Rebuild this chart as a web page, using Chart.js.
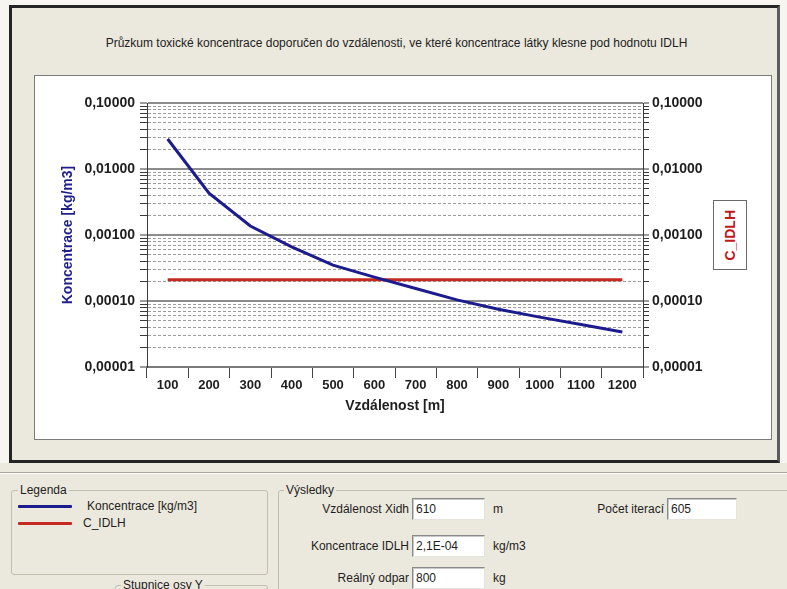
<!DOCTYPE html>
<html lang="cs">
<head>
<meta charset="utf-8">
<title>Průzkum toxické koncentrace</title>
<script src="https://cdn.jsdelivr.net/npm/chart.js@4"></script>
<style>
  html, body { margin: 0; padding: 0; }
  body {
    width: 787px; height: 589px; overflow: hidden; position: relative;
    background: #f6f5f0;
    font-family: "Liberation Sans", Arial, sans-serif; color: #1e1e1e;
  }
  .abs { position: absolute; }
  #frame {
    left: 9px; top: 5px; width: 771px; height: 458px; box-sizing: border-box;
    border: 3px solid #242424; border-right-color: #5c5c5c; background: #ebe8dd;
  }
  #title { left: 10px; top: 36px; width: 773px; text-align: center; font-size: 12px; line-height: 14px; color: #222; white-space: nowrap; }
  #panel { left: 34px; top: 75px; width: 738px; height: 365px; box-sizing: border-box; border: 1px solid #7c7c7c; background: #fff; }
  #chart { left: 35px; top: 76px; width: 736px; height: 363px; }
  #idlhBox {
    left: 713px; top: 200px; width: 34px; height: 70px; box-sizing: border-box;
    border: 1px solid #6a6a6a; background: #fff;
    display: flex; align-items: center; justify-content: center;
  }
  #idlhBox span { writing-mode: vertical-rl; transform: rotate(180deg); color: #c0181c; font-weight: bold; font-size: 14px; }
  #bottom { left: 0; top: 463px; width: 787px; height: 126px; background: #ebe8dd; }
  #sep { left: 0; top: 472px; width: 787px; height: 1px; background: #a9a69a; box-shadow: 0 1px 0 #fff; }
  .grp { position: absolute; border: 1px solid #c3bfae; border-radius: 3px; box-sizing: border-box; }
  .lbl { position: absolute; font-size: 12px; line-height: 14px; white-space: nowrap; color: #1e1e1e; }
  .glbl { background: #ebe8dd; padding: 0 2px; }
  .right { text-align: right; }
  .box {
    position: absolute; height: 22px; box-sizing: border-box; background: #fff;
    border: 1px solid; border-color: #8a8a8a #e6e4dc #e6e4dc #8a8a8a;
    box-shadow: inset 1px 1px 0 #c8c8c8;
    font-size: 12px; line-height: 20px; padding-left: 3px; color: #1e1e1e;
  }
  .swatch { position: absolute; left: 18px; width: 54px; height: 3px; border-radius: 1px; }
</style>
</head>
<body>
<div id="frame" class="abs"></div>
<div id="title" class="abs">Průzkum toxické koncentrace doporučen do vzdálenosti, ve které koncentrace látky klesne pod hodnotu IDLH</div>
<div id="panel" class="abs"></div>
<canvas id="chart" class="abs" width="736" height="363"></canvas>
<div id="idlhBox" class="abs"><span>C_IDLH</span></div>

<div id="bottom" class="abs"></div>
<div id="sep" class="abs"></div>

<div class="grp" style="left:11px;top:490px;width:257px;height:85px;"></div>
<div class="lbl glbl" style="left:18px;top:483px;">Legenda</div>
<div id="legend"></div>

<div class="grp" style="left:115px;top:585px;width:153px;height:30px;"></div>
<div class="lbl glbl" style="left:121px;top:578px;">Stupnice osy Y</div>

<div class="grp" style="left:278px;top:490px;width:530px;height:130px;"></div>
<div class="lbl glbl" style="left:284px;top:483px;">Výsledky</div>
<div id="results"></div>

<script>
// Distances along the x axis [m]
const distanceLabels = ['100', '200', '300', '400', '500', '600', '700', '800', '900', '1000', '1100', '1200'];

// Toxic concentration at each distance [kg/m3]
const concentration = [0.0285, 0.0043, 0.00137, 0.00066, 0.00035, 0.00023, 0.000155, 0.000104, 0.000075, 0.000057, 0.000044, 0.000034];

// IDLH threshold concentration [kg/m3]
const cIdlh = [0.00021, 0.00021, 0.00021, 0.00021, 0.00021, 0.00021, 0.00021, 0.00021, 0.00021, 0.00021, 0.00021, 0.00021];

// Logarithmic axis: labelled decades and the minor steps inside each decade
const decadeValues = [0.1, 0.01, 0.001, 0.0001, 0.00001];
const decadeLabels = ['0,10000', '0,01000', '0,00100', '0,00010', '0,00001'];
const minorSteps = [2, 3, 4, 5, 6, 7, 8, 9];

const seriesNames = ['Koncentrace [kg/m3]', 'C_IDLH'];
const seriesColors = ['#1c1c8e', '#c42a22'];

// Result fields of the form
const resultRows = [
  { label: 'Vzdálenost Xidh', value: '610', unit: 'm' },
  { label: 'Koncentrace IDLH', value: '2,1E-04', unit: 'kg/m3' },
  { label: 'Reálný odpar', value: '800', unit: 'kg' }
];
const iterationLabel = 'Počet iterací';
const iterationValue = '605';

// ---------- form widgets ----------
const legendEl = document.getElementById('legend');
seriesNames.forEach((name, i) => {
  const y = 506 + i * 17;
  const sw = document.createElement('div');
  sw.className = 'swatch';
  sw.style.top = (y - 1) + 'px';
  sw.style.background = seriesColors[i];
  legendEl.appendChild(sw);
  const t = document.createElement('div');
  t.className = 'lbl';
  t.style.left = (i === 0 ? 87 : 83) + 'px';
  t.style.top = (y - 7) + 'px';
  t.textContent = name;
  legendEl.appendChild(t);
});

const resultsEl = document.getElementById('results');
const rowCenters = [509, 546, 578];
function addField(labelText, value, unit, cy, labelRight, boxLeft, boxWidth) {
  const l = document.createElement('div');
  l.className = 'lbl right';
  l.style.left = (labelRight - 160) + 'px';
  l.style.width = '160px';
  l.style.top = (cy - 7) + 'px';
  l.textContent = labelText;
  resultsEl.appendChild(l);
  const b = document.createElement('div');
  b.className = 'box';
  b.style.left = boxLeft + 'px';
  b.style.width = boxWidth + 'px';
  b.style.top = (cy - 11) + 'px';
  b.textContent = value;
  resultsEl.appendChild(b);
  if (unit) {
    const u = document.createElement('div');
    u.className = 'lbl';
    u.style.left = (boxLeft + boxWidth + 8) + 'px';
    u.style.top = (cy - 7) + 'px';
    u.textContent = unit;
    resultsEl.appendChild(u);
  }
}
resultRows.forEach((r, i) => addField(r.label, r.value, r.unit, rowCenters[i], 409, 412, 73));
addField(iterationLabel, iterationValue, '', rowCenters[0], 664, 667, 70);

// ---------- chart ----------
Chart.defaults.font.family = '"Liberation Sans", Arial, sans-serif';

function logTicks() {
  const out = [];
  decadeValues.forEach(d => {
    out.push({ value: d, major: true });
    if (d < Math.max(...decadeValues)) {
      minorSteps.forEach(m => out.push({ value: d * m, major: false }));
    }
  });
  return out.sort((a, b) => a.value - b.value);
}

function decadeLabel(v) {
  const i = decadeValues.findIndex(d => Math.abs(v / d - 1) < 1e-6);
  return i >= 0 ? decadeLabels[i] : '';
}

const isMajor = c => !!(c.tick && c.tick.major);

function yAxis(position, width, tickLength, pad, withGrid) {
  return {
    type: 'logarithmic',
    position: position,
    min: Math.min(...decadeValues),
    max: Math.max(...decadeValues),
    afterBuildTicks: s => { s.ticks = logTicks(); },
    afterFit: s => { s.width = width; },
    ticks: {
      autoSkip: false,
      padding: pad,
      color: '#1e1e1e',
      font: { size: 14, weight: 'bold' },
      callback: (v, i, ticks) => decadeLabel(ticks[i].value)
    },
    grid: {
      drawOnChartArea: withGrid,
      drawTicks: true,
      tickLength: tickLength,
      tickColor: '#3a3a3a',
      tickWidth: 1,
      color: c => isMajor(c) ? '#8c8c8c' : '#9c9c9c',
      lineWidth: c => isMajor(c) ? 2 : 1
    },
    border: {
      display: true,
      color: '#3c3c3c',
      width: 1,
      dash: c => (c.tick && !c.tick.major) ? [3, 2] : []
    }
  };
}

const leftAxis = yAxis('left', 112, 7, 5, true);
leftAxis.title = {
  display: true,
  text: 'Koncentrace [kg/m3]',
  color: '#1e1e8c',
  font: { size: 14, weight: 'bold' },
  padding: { top: 25, bottom: 0 }
};
const rightAxis = yAxis('right', 128, 6, 3, false);

new Chart(document.getElementById('chart'), {
  type: 'line',
  data: {
    labels: distanceLabels,
    datasets: [
      {
        label: seriesNames[0],
        data: concentration,
        yAxisID: 'y',
        borderColor: seriesColors[0],
        borderWidth: 3,
        pointRadius: 0,
        tension: 0,
        fill: false
      },
      {
        label: seriesNames[1],
        data: cIdlh,
        yAxisID: 'y2',
        borderColor: seriesColors[1],
        borderWidth: 3,
        pointRadius: 0,
        tension: 0,
        fill: false
      }
    ]
  },
  options: {
    responsive: false,
    devicePixelRatio: 1,
    animation: false,
    layout: { padding: { top: 27, left: 0, right: 0, bottom: 0 } },
    plugins: { legend: { display: false }, tooltip: { enabled: false }, title: { display: false } },
    scales: {
      x: {
        type: 'category',
        offset: true,
        afterFit: s => { s.height = 72; },
        grid: {
          offset: true,
          drawOnChartArea: false,
          drawTicks: true,
          tickLength: 11,
          tickColor: '#444',
          tickWidth: 1
        },
        border: { display: true, color: '#7a7a7a', width: 2 },
        ticks: {
          autoSkip: false,
          maxRotation: 0,
          padding: 0,
          color: '#1e1e1e',
          font: { size: 13, weight: 'bold' }
        },
        title: {
          display: true,
          text: 'Vzdálenost [m]',
          color: '#1e1e1e',
          font: { size: 14, weight: 'bold' },
          padding: { top: 0, bottom: 24 }
        }
      },
      y: leftAxis,
      y2: rightAxis
    }
  }
});
</script>
</body>
</html>
